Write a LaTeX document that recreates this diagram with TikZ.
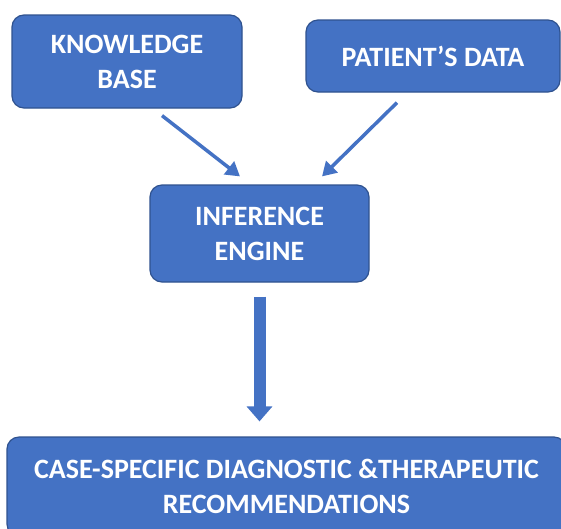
\documentclass[tikz,border=0pt]{standalone}
\usepackage{fontspec}
\setmainfont{Carlito}
\usepackage{tikz}
\usetikzlibrary{arrows.meta}

\definecolor{boxblue}{HTML}{4472C4}
\definecolor{edgeblue}{HTML}{2F528F}

\begin{document}
\begin{tikzpicture}[x=1pt,y=-1pt,
        block/.style={draw=edgeblue, line width=1.2pt, fill=boxblue, rounded corners=12pt,
            text=white, align=center, inner sep=0pt,
            font=\fontsize{28}{35}\selectfont\bfseries},
        flow/.style={boxblue, line width=3.5pt, -{Triangle[width=16pt,length=14pt]}},
        bigflow/.style={boxblue, line width=12pt, -{Triangle[width=25pt,length=15pt]}}]
    \useasboundingbox (0,0) rectangle (561,528);
    % the four boxes
    \node[block, minimum width=230pt, minimum height=93pt] (kb) at (127,61.5) {KNOWLEDGE\\BASE};
    \node[block, minimum width=254pt, minimum height=72pt] (pd) at (433,56) {PATIENT’S DATA};
    \node[block, minimum width=219pt, minimum height=97pt] (ie) at (259.5,233.5) {INFERENCE\\ENGINE};
    \node[block, minimum width=559pt, minimum height=99pt] (rec) at (286.5,486.5)
        {CASE-SPECIFIC DIAGNOSTIC \&THERAPEUTIC\\RECOMMENDATIONS};
    % arrows into and out of the engine
    \draw[flow] ([xshift=35pt,yshift=-7pt]kb.south) -- ([xshift=-19.5pt,yshift=8pt]ie.north);
    \draw[flow] ([xshift=-36pt,yshift=-10pt]pd.south) -- ([xshift=62.5pt,yshift=8pt]ie.north);
    \draw[bigflow] ([yshift=-14pt]ie.south) -- ([yshift=15pt]ie.south |- rec.north);
\end{tikzpicture}
\end{document}
